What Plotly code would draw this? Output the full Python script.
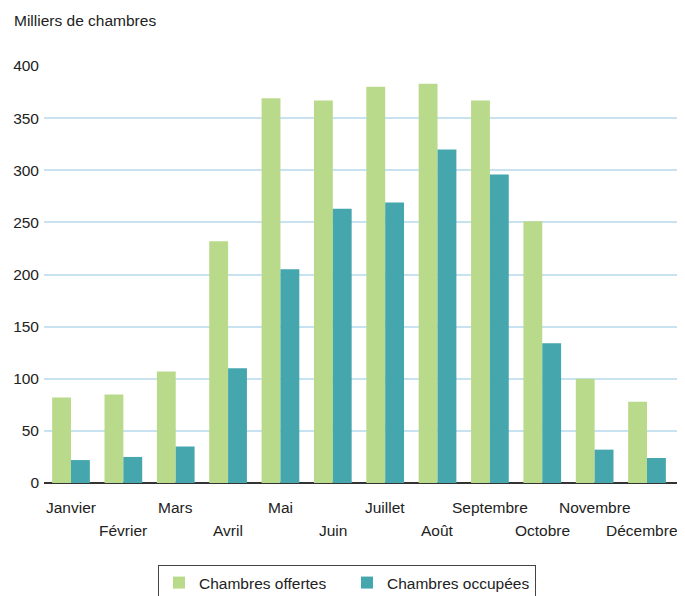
import plotly.graph_objects as go

months = ["Janvier", "Février", "Mars", "Avril", "Mai", "Juin", "Juillet",
          "Août", "Septembre", "Octobre", "Novembre", "Décembre"]
offertes = [82, 85, 107, 232, 369, 367, 380, 383, 367, 251, 100, 78]
occupees = [22, 25, 35, 110, 205, 263, 269, 320, 296, 134, 32, 24]
y_ticks = [0, 50, 100, 150, 200, 250, 300, 350, 400]

GREEN = "#b9da8a"
TEAL = "#45a6ae"
FONT = "Liberation Sans, Arial, sans-serif"

# page has an 8px body margin: figure is drawn offset by 8px
W, H = 677, 588
ml, mr, mt, mb = 36, 5, 58, 113
pw, ph = W - ml - mr, H - mt - mb

fig = go.Figure()
fig.add_trace(go.Bar(x=months, y=offertes, name="Chambres offertes",
                     marker=dict(color=GREEN, line=dict(width=0))))
fig.add_trace(go.Bar(x=months, y=occupees, name="Chambres occupées",
                     marker=dict(color=TEAL, line=dict(width=0))))

annotations = [dict(text="Milliers de chambres", x=(4 - ml) / pw, y=1 + (mt - 12) / ph,
                    xref="paper", yref="paper",
                    showarrow=False, xanchor="left", yanchor="middle",
                    font=dict(size=15.5, color="#222", family=FONT))]
# staggered month labels
for i, m in enumerate(months):
    shift = -24 if i % 2 == 0 else -47
    xs = -5 if i == len(months) - 1 else 0
    annotations.append(dict(text=m, x=m, y=0, xref="x", yref="y", showarrow=False,
                            yshift=shift, xshift=xs, xanchor="center", yanchor="middle",
                            font=dict(size=15.5, color="#222", family=FONT)))

fig.update_layout(
    width=W, height=H,
    margin=dict(l=ml, r=mr, t=mt, b=mb, autoexpand=False),
    paper_bgcolor="white", plot_bgcolor="white",
    barmode="group", bargap=0.28, bargroupgap=0,
    font=dict(family=FONT, size=15, color="#222"),
    showlegend=True,
    legend=dict(orientation="h", x=(150 - ml) / pw, y=-(557 - 475) / ph,
                xanchor="left", yanchor="top",
                bordercolor="#444", borderwidth=1,
                font=dict(size=15.5, family=FONT, color="#222"),
                itemsizing="constant", entrywidth=143, entrywidthmode="pixels"),
    annotations=annotations,
    xaxis=dict(showticklabels=False, showgrid=False, zeroline=False,
               showline=False, ticks="", automargin=False),
    yaxis=dict(range=[0, 400], tickvals=y_ticks, showgrid=True,
               gridcolor="#c8e2f1", gridwidth=2,
               zeroline=True, zerolinecolor="#333", zerolinewidth=2,
               ticks="", tickfont=dict(size=15.5, family=FONT, color="#222"),
               ticklabelstandoff=4, automargin=False),
)

fig.write_html("out.html", config={"displayModeBar": False})
